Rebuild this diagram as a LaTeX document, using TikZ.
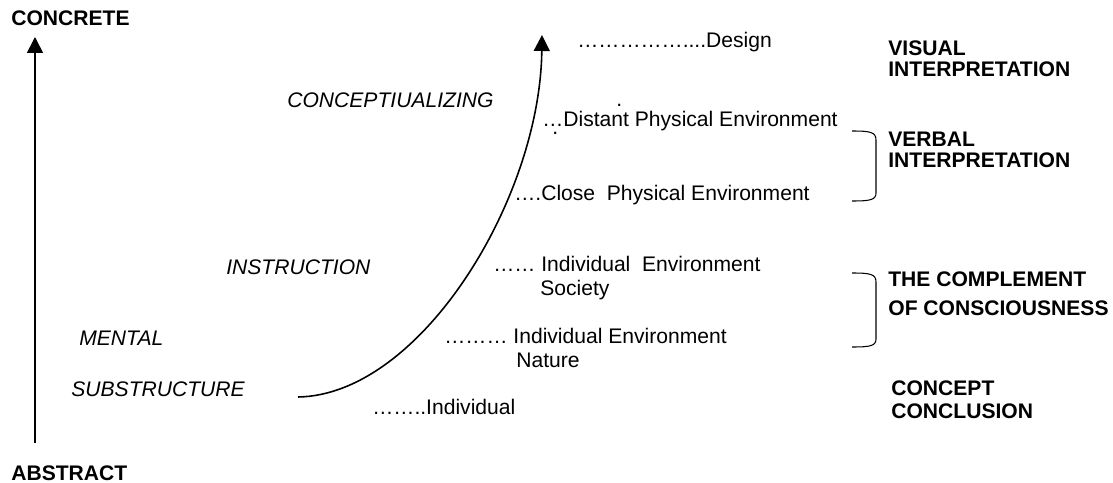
\documentclass[tikz,border=0pt]{standalone}
\usepackage{fontspec}
\setmainfont{Liberation Sans}
\usetikzlibrary{arrows.meta}

\begin{document}
\begin{tikzpicture}[x=0.02cm, y=-0.02cm, >={Triangle[length=0.32cm, width=0.32cm]},
    txt/.style={anchor=base west, inner sep=0pt, font=\fontsize{12}{14}\selectfont},
    head/.style={txt, font=\fontsize{12}{14}\selectfont\bfseries},
    stage/.style={txt, font=\fontsize{12}{14}\selectfont\itshape}]
    \useasboundingbox (0,0) rectangle (1113,483);

    % abstract -> concrete axis
    \node[head] (concrete) at (11,26) {CONCRETE};
    \node[head] (abstract) at (11,480) {ABSTRACT};
    \coordinate (axbot) at (35,443);
    \coordinate (axtop) at (35,37);
    \draw[->, line width=0.9pt] (axbot) -- (axtop);

    % stages along the curve
    \node[stage] (conc) at (287,108) {CONCEPTIUALIZING};
    \node[stage] (instr) at (226,275) {INSTRUCTION};
    \node[stage] (mental) at (79,345) {MENTAL};
    \node[stage] (subst) at (71,396) {SUBSTRUCTURE};
    \coordinate (cstart) at (298,397);
    \coordinate (ctop) at (542,35);
    \draw[->, line width=0.9pt] (cstart) .. controls (420,395) and (540,200) .. (ctop);

    % levels
    \node[txt] (design) at (577,48) {……………....Design};
    \node[txt] (dotA) at (616,107) {.};
    \node[txt] (distant) at (542,127) {…Distant Physical Environment};
    \node[txt] (dotB) at (552,134) {.};
    \node[txt] (close) at (514,200) {….Close~~Physical Environment};
    \node[txt] (society) at (493,271) {…… Individual~~Environment};
    \node[txt] (society2) at (540,295) {Society};
    \node[txt] (nature) at (444,343) {……… Individual Environment};
    \node[txt] (nature2) at (516,367) {Nature};
    \node[txt] (indiv) at (372,414) {……..Individual};

    % interpretations
    \node[head] (visual) at (888,56) {VISUAL};
    \node[head] (visual2) at (888,77) {INTERPRETATION};
    \node[head] (verbal) at (888,147) {VERBAL};
    \node[head] (verbal2) at (888,168) {INTERPRETATION};
    \node[head] (compl) at (888,286) {THE COMPLEMENT};
    \node[head] (compl2) at (888,315) {OF CONSCIOUSNESS};
    \node[head] (concl) at (891,395) {CONCEPT};
    \node[head] (concl2) at (891,418) {CONCLUSION};

    % brackets
    \draw[line width=0.6pt] (852,131) .. controls (870,131) and (876,132) .. (876,140)
        -- (876,193) .. controls (876,200) and (870,201) .. (852,201);
    \draw[line width=0.6pt] (852,273) .. controls (870,273) and (876,274) .. (876,282)
        -- (876,339) .. controls (876,346) and (870,347) .. (852,347);
\end{tikzpicture}
\end{document}
